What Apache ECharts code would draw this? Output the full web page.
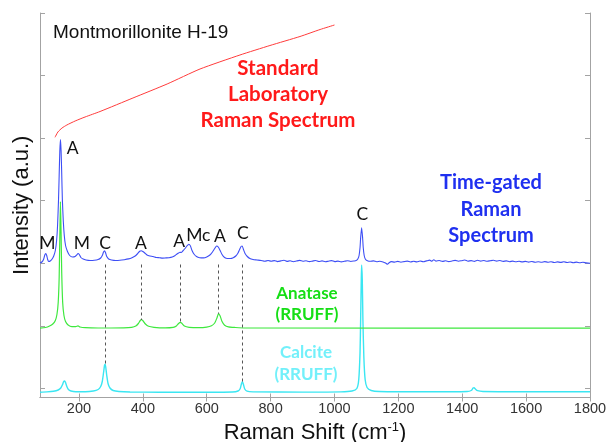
<!DOCTYPE html>
<html>
<head>
<meta charset="utf-8">
<script src="https://cdn.jsdelivr.net/npm/echarts@6/dist/echarts.min.js"></script>
<style>html,body{margin:0;background:#fff}#main{width:607px;height:442px}</style>
</head>
<body>
<div id="main"></div>
<script>
// tick positions
var xTicks = [200, 400, 600, 800, 1000, 1200, 1400, 1600, 1800];
var yTicks = [9, 71.6, 134.2, 196.8, 259.4, 322, 384.5];

// standard lab spectrum (fluorescence background)
var redData = [[125,260.2],[134,265.5],[147,269.5],[162,272.5],[188,276.5],[219,280.5],[266,286],
  [369,299.5],[476,313.5],[579,328.5],[704,342.5],[798,352],[892,361],[955,368],[1000,372.5]];

// time-gated spectrum
var blueData = [[78,134.5],[84,135.5],[89,138],[93,142.5],[96,144],[99,142],[102,138],[105,136],[110,136.5],
  [116,138.5],[121,141.5],[126,147],[130,157],[133,172],[136,198],[138,222],[140,246],[142,258],[144,247],
  [146,224],[148,198],[151,176],[154,162],[158,152],[164,146],[171,142],[180,140.5],[188,141],[193,142.5],
  [197,144],[201,143],[206,140],[213,138.5],[222,137.5],[235,137],[248,137.2],[260,138],[268,139.5],[273,142],
  [277,145.5],[280,146.8],[283,145],[287,141],[293,138.5],[302,137.5],[315,137],[328,137.2],[342,137.8],
  [355,138.6],[366,139.8],[376,141.5],[384,144],[390,146.2],[395,146.8],[400,146],[406,144.5],[413,142.5],
  [422,141.5],[432,141],[442,140],[452,139.8],[462,139.4],[472,139.6],[482,139.8],[492,140.5],[500,141.8],
  [507,143.5],[512,144.5],[516,145.2],[520,145],[525,146.5],[532,149],[538,151.5],[544,153.2],[549,151.5],
  [554,147],[560,143.5],[568,141],[578,139.8],[590,139.6],[600,140.5],[610,142.5],[618,145.5],[625,149],
  [631,151.5],[636,150.5],[642,147],[648,143],[656,140],[665,139],[674,139],[683,139.8],[691,141.5],
  [698,144.5],[703,148],[708,151.3],[711,151.5],[715,148],[720,144],[727,141],[735,139],[745,138],[757,137.5],
  [770,137],[782,136.2],[792,137],[802,136.3],[812,136.9],[822,135.9],[832,136.6],[842,137.2],[851,136.1],
  [861,136.7],[871,135.8],[881,136.5],[891,137.1],[901,136.2],[911,136.8],[921,135.9],[931,136.4],[941,137],
  [951,136],[961,136.6],[971,135.7],[981,136.3],[991,136.9],[1001,135.9],[1011,136.4],[1021,135.6],[1031,136.2],
  [1041,136.8],[1051,136],[1061,136.5],[1068,137],[1073,138.5],[1077,142],[1080,150],[1082,160],[1085,169.8],
  [1088,160],[1090,150],[1093,142],[1097,138.3],[1103,136.8],[1112,136.2],[1122,136.6],[1132,135.8],[1142,136.3],
  [1152,135.6],[1160,134.5],[1166,133.3],[1171,134.8],[1178,135.9],[1188,135.4],[1198,136.1],[1208,135.3],
  [1218,135.9],[1228,136.4],[1238,135.5],[1248,136.2],[1258,135.6],[1268,136.5],[1278,135.8],[1288,136.6],
  [1298,137.4],[1305,136.2],[1311,137.8],[1318,136.4],[1328,137],[1338,136.1],[1348,136.7],[1358,135.9],
  [1368,136.5],[1378,137.1],[1388,136.2],[1398,136.8],[1408,137.5],[1418,136.3],[1428,136.9],[1438,136.1],
  [1448,137.2],[1458,136.4],[1468,137],[1478,136.2],[1488,136.8],[1498,137.3],[1508,136.4],[1518,137],
  [1528,136.1],[1538,136.6],[1548,135.8],[1558,136.4],[1568,135.7],[1578,136.2],[1588,135.6],[1598,136.1],
  [1608,135.4],[1618,136],[1628,135.3],[1638,135.8],[1648,135.2],[1658,135.9],[1668,135.3],[1678,135.7],
  [1688,135],[1698,135.6],[1708,135.1],[1718,135.7],[1728,135],[1738,135.5],[1748,134.8],[1758,135.4],
  [1768,134.7],[1778,135.2],[1788,134.6],[1800,134.3]];

// anatase reference (RRUFF)
var greenData = [[78,69.3],[95,70],[108,71.5],[118,73.5],[126,77],[131,83],[135,95],[138,120],[140,160],
  [142,195.8],[144,165],[146,125],[149,95],[153,82],[158,76],[166,72.5],[178,70.8],[190,70.8],[197,71.6],
  [203,70.5],[220,69.8],[260,69.5],[300,69.5],[340,69.6],[365,70.2],[378,71.5],[386,74],[392,77],[396,77.8],
  [401,76.5],[408,73.5],[418,71.2],[435,70.2],[470,69.7],[495,70.2],[505,71.5],[512,74],[517,75.2],[522,74.2],
  [530,71.5],[545,70.2],[575,69.8],[600,70.4],[615,71.8],[625,74.5],[632,79.5],[637,83.8],[642,81.5],[648,76],
  [656,72.3],[668,70.6],[690,70],[720,69.5],[1800,69.3]];

// calcite reference (RRUFF)
var cyanData = [[78,5.3],[100,5.6],[120,6.2],[135,7.5],[143,9.5],[148,12.5],[152,15.8],[155,16.5],[158,15],
  [162,11],[167,8],[175,6.5],[190,5.8],[220,5.8],[245,6.5],[260,8],[268,11],[273,16],[277,25],[280,32],
  [282,33.2],[284,30],[287,22],[291,14],[297,9.5],[307,7],[325,6],[360,5.5],[450,5.3],[600,5.3],[680,5.5],
  [698,6.5],[705,9],[709,14],[712,15.8],[715,13],[719,8.5],[726,6.3],[745,5.6],[900,5.4],[1020,5.6],
  [1055,6.5],[1070,9],[1076,18],[1080,45],[1082,80],[1084,120],[1085,132.5],[1087,118],[1089,78],[1092,40],
  [1096,18],[1102,10],[1115,7],[1140,6],[1300,5.7],[1415,6],[1428,7],[1434,9.4],[1437,9.8],[1441,8.5],
  [1448,6.8],[1465,6],[1600,5.8],[1800,5.8]];

// peak assignments
var peakNames = ['A', 'M', 'M', 'C', 'A', 'A', 'Mc', 'A', 'C', 'C'];
var peakPos = [[180,249.5],[101,154.2],[209,154.2],[281.5,154.5],[394,154.5],[514,156.5],[573.6,162.5],
  [641.6,161.5],[712.7,164],[1087,183.5]];

// dashed guides: [shift, top, bottom]
var guides = [[281,133,33.2],[394,133,77.5],[516,133,75.2],[637,133,83.8],[711,133,15.8]];

var myChart = echarts.init(document.getElementById('main'));

var axisGray = '#a3a3a3';
var lato = 'Lato';

var peakMarks = peakNames.map(function(n, i){
  return {name: n, coord: peakPos[i]};
});
var guideLines = guides.map(function(g){
  return [{coord: [g[0], g[1]]}, {coord: [g[0], g[2]]}];
});

function lineSeries(data, color, w){
  return {
    type: 'line', data: data, showSymbol: false, smooth: 0.2,
    lineStyle: {color: color, width: w}, silent: true, animation: false
  };
}

var cyan = lineSeries(cyanData, '#3ae6f2', 1.4);
cyan.markLine = {
  silent: true, symbol: 'none', animation: false,
  label: {show: false},
  lineStyle: {color: '#555', width: 1, type: [3, 3]},
  data: guideLines
};
var green = lineSeries(greenData, '#3ee83e', 1.2);
var blue = lineSeries(blueData, '#3d4ef5', 1.1);
blue.markPoint = {
  symbol: 'circle', symbolSize: 1, silent: true, animation: false,
  itemStyle: {color: 'rgba(0,0,0,0)'},
  label: {show: true, position: 'inside', formatter: '{b}', color: '#111', fontFamily: lato, fontSize: 17.5},
  data: peakMarks
};
var red = lineSeries(redData, '#ff3b3b', 1);

var option = {
  animation: false,
  grid: {left: 40, right: 17, top: 13, bottom: 44.5, outerBoundsMode: 'none', containLabel: false},
  xAxis: [{
    type: 'value', min: 78, max: 1800, position: 'bottom',
    name: 'Raman Shift (cm{sup|-1})', nameLocation: 'middle', nameGap: 21,
    nameTextStyle: {
      fontFamily: 'Liberation Sans', fontSize: 22, color: '#111',
      rich: {sup: {fontFamily: 'Liberation Sans', fontSize: 13, color: '#111', verticalAlign: 'top', padding: [0, 0, 11, 0]}}
    },
    axisLine: {lineStyle: {color: axisGray}},
    axisTick: {inside: true, length: 4, customValues: xTicks, lineStyle: {color: axisGray}},
    axisLabel: {customValues: xTicks, margin: 4, fontFamily: 'Liberation Sans', fontSize: 14.5, color: '#333',
      formatter: function(v){ return String(v); }},
    splitLine: {show: false}
  }, {
    type: 'value', min: 78, max: 1800, position: 'top',
    axisLine: {lineStyle: {color: axisGray}},
    axisTick: {inside: true, length: 4, customValues: xTicks, lineStyle: {color: axisGray}},
    axisLabel: {show: false},
    splitLine: {show: false}
  }],
  yAxis: [{
    type: 'value', min: 0, max: 384.5, position: 'left',
    name: 'Intensity (a.u.)', nameLocation: 'middle', nameGap: 7,
    nameTextStyle: {fontFamily: 'Liberation Sans', fontSize: 22, color: '#111'},
    axisLine: {show: true, lineStyle: {color: axisGray}},
    axisTick: {show: true, inside: true, length: 5, customValues: yTicks, lineStyle: {color: axisGray}},
    axisLabel: {show: false},
    splitLine: {show: false}
  }, {
    type: 'value', min: 0, max: 384.5, position: 'right',
    axisLine: {show: true, lineStyle: {color: axisGray}},
    axisTick: {show: true, inside: true, length: 5, customValues: yTicks, lineStyle: {color: axisGray}},
    axisLabel: {show: false},
    splitLine: {show: false}
  }],
  series: [cyan, green, blue, red],
  graphic: [
    {type: 'text', left: 53, top: 23, silent: true,
     style: {text: 'Montmorillonite H-19', font: '19px "Liberation Sans"', fill: '#111'}},
    {type: 'text', x: 278, y: 56, silent: true,
     style: {text: 'Standard\nLaboratory\nRaman Spectrum', font: 'bold 20.5px Lato', fill: '#ff1a1a',
             align: 'center', verticalAlign: 'top', lineHeight: 25.6}},
    {type: 'text', x: 491, y: 169, silent: true,
     style: {text: 'Time-gated\nRaman\nSpectrum', font: 'bold 20px Lato', fill: '#1f30f0',
             align: 'center', verticalAlign: 'top', lineHeight: 26.8}},
    {type: 'text', x: 307, y: 283, silent: true,
     style: {text: 'Anatase\n(RRUFF)', font: 'bold 17px Lato', fill: '#16de16',
             align: 'center', verticalAlign: 'top', lineHeight: 20.7}},
    {type: 'text', x: 306, y: 342, silent: true,
     style: {text: 'Calcite\n(RRUFF)', font: 'bold 17px Lato', fill: '#72f0fa',
             align: 'center', verticalAlign: 'top', lineHeight: 21.7}}
  ]
};
myChart.setOption(option);
</script>
</body>
</html>
